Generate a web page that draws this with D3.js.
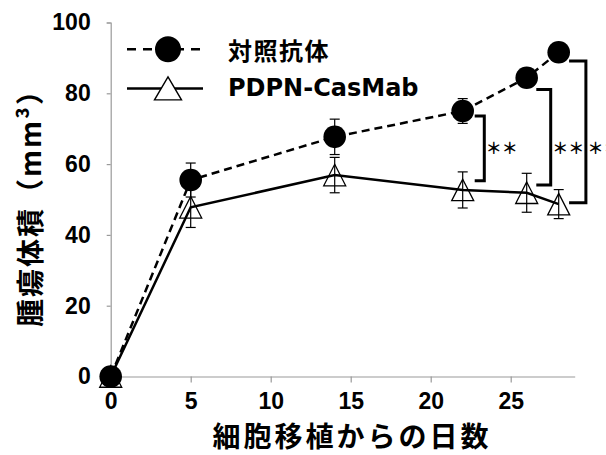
<!DOCTYPE html>
<html>
<head>
<meta charset="utf-8">
<script src="https://cdn.jsdelivr.net/npm/d3@7"></script>
<style>
	body { margin: 0; background: #fff; }
	svg { display: block; }
</style>
</head>
<body>
<svg id="chart" width="606" height="455"></svg>
<script>
// days after transplantation
const days = [0, 5, 14, 22, 26, 28];
const controlMean = [0, 55.5, 67.7, 75.0, 84.4, 91.6];
const controlErr = [0, 4.8, 5.0, 3.5, 2.5, 2.0];
const casmabMean = [0, 47.8, 56.9, 52.7, 51.9, 48.7];
const casmabErr = [0, 5.7, 5.0, 5.1, 5.5, 4.1];
const xTicks = [0, 5, 10, 15, 20, 25];
const yTicks = [0, 20, 40, 60, 80, 100];
const seriesNames = ["対照抗体", "PDPN-CasMab"];
// significance brackets (days / mm3)
const bracketDayIn = [22.75, 26.6, 28.65];
const bracketDayOut = [23.35, 27.5, 29.7];
const bracketTop = [73.6, 81.1, 89.1];
const bracketBottom = [55.3, 54.1, 49.1];
const bracketLabel = ["＊＊", "＊＊", "＊＊"];
const starValue = 64.7;

const jp = "'Noto Sans CJK JP', sans-serif";
const num = "'Liberation Sans', Arial, sans-serif";

let svg = d3.select("#chart");
let x = d3.scaleLinear().domain([0, 29]).range([110.7, 574.7]);
let y = d3.scaleLinear().domain([0, 100]).range([376.5, 22.5]);

let xAxis = svg.append("g")
	.attr("transform", `translate(0,${y(0)})`)
	.call(d3.axisBottom(x).tickValues(xTicks).tickSize(6).tickSizeOuter(0).tickPadding(10));
let yAxis = svg.append("g")
	.attr("transform", `translate(${x(0)},0)`)
	.call(d3.axisLeft(y).tickValues(yTicks).tickSize(4).tickSizeOuter(4).tickPadding(16));
[xAxis, yAxis].forEach(a => {
	a.selectAll("path, line").attr("stroke", "#9a9a9a").attr("stroke-width", 1.2);
	a.selectAll("text")
		.attr("fill", "#000")
		.attr("font-family", num)
		.attr("font-weight", "bold")
		.attr("font-size", 23);
});

// axis titles
svg.append("text")
	.attr("x", 352)
	.attr("y", 435)
	.attr("text-anchor", "middle")
	.attr("dominant-baseline", "central")
	.attr("font-family", jp)
	.attr("font-weight", "bold")
	.attr("font-size", 28)
	.attr("letter-spacing", 3)
	.text("細胞移植からの日数");
svg.append("text")
	.attr("transform", "translate(29,201) rotate(-90)")
	.attr("text-anchor", "middle")
	.attr("dominant-baseline", "central")
	.attr("font-family", jp)
	.attr("font-weight", "bold")
	.attr("font-size", 28)
	.attr("letter-spacing", 2)
	.text("腫瘍体積（mm³）");

let ctrl = days.map((d, i) => ({day: d, v: controlMean[i], e: controlErr[i]}));
let cas = days.map((d, i) => ({day: d, v: casmabMean[i], e: casmabErr[i]}));
let line = d3.line().x(d => x(d.day)).y(d => y(d.v));

function triangle(w, h) {
	return `M0,${-h / 2}L${w / 2},${h / 2}L${-w / 2},${h / 2}Z`;
}

svg.append("path")
	.datum(cas)
	.attr("d", line)
	.attr("fill", "none")
	.attr("stroke", "#000")
	.attr("stroke-width", 2.5);
svg.append("path")
	.datum(ctrl)
	.attr("d", line)
	.attr("fill", "none")
	.attr("stroke", "#000")
	.attr("stroke-width", 2.5)
	.attr("stroke-dasharray", "8,5");

// error bars
function errorBars(data) {
	let g = svg.append("g").attr("stroke", "#000").attr("stroke-width", 1.2);
	data.filter(d => d.e > 0).forEach(d => {
		let cx = x(d.day), t = y(d.v + d.e), b = y(d.v - d.e);
		g.append("line").attr("x1", cx).attr("x2", cx).attr("y1", t).attr("y2", b);
		g.append("line").attr("x1", cx - 5).attr("x2", cx + 5).attr("y1", t).attr("y2", t);
		g.append("line").attr("x1", cx - 5).attr("x2", cx + 5).attr("y1", b).attr("y2", b);
	});
}
errorBars(cas);
svg.append("g")
	.selectAll("path")
	.data(cas)
	.join("path")
	.attr("transform", d => `translate(${x(d.day)},${y(d.v)})`)
	.attr("d", triangle(22, 21.5))
	.attr("fill", "none")
	.attr("stroke", "#000")
	.attr("stroke-width", 1.3);
errorBars(ctrl);
svg.append("g")
	.selectAll("circle")
	.data(ctrl)
	.join("circle")
	.attr("cx", d => x(d.day))
	.attr("cy", d => y(d.v))
	.attr("r", 11.3)
	.attr("fill", "#000");

// brackets
bracketTop.forEach((t, i) => {
	let x0 = x(bracketDayIn[i]), x1 = x(bracketDayOut[i]);
	svg.append("path")
		.attr("d", `M${x0},${y(t)}H${x1}V${y(bracketBottom[i])}H${x0}`)
		.attr("fill", "none")
		.attr("stroke", "#000")
		.attr("stroke-width", 3);
	svg.append("text")
		.attr("x", x1 + 1.5)
		.attr("y", y(starValue))
		.attr("dominant-baseline", "central")
		.attr("font-family", jp)
		.attr("font-weight", "bold")
		.attr("font-size", 16)
		.attr("fill", "#000")
		.text(bracketLabel[i]);
});

// legend
let legend = svg.append("g");
let rows = [49.3, 88.4];
legend.append("line")
	.attr("x1", 127).attr("x2", 203).attr("y1", rows[0]).attr("y2", rows[0])
	.attr("stroke", "#000").attr("stroke-width", 2.5).attr("stroke-dasharray", "9,7");
legend.append("circle")
	.attr("cx", 168).attr("cy", rows[0]).attr("r", 13).attr("fill", "#000");
legend.append("line")
	.attr("x1", 127).attr("x2", 203).attr("y1", rows[1]).attr("y2", rows[1])
	.attr("stroke", "#000").attr("stroke-width", 2.5);
legend.append("path")
	.attr("transform", `translate(168,${rows[1]})`)
	.attr("d", triangle(27, 23))
	.attr("fill", "#fff")
	.attr("stroke", "#000")
	.attr("stroke-width", 1.4);
legend.selectAll("text")
	.data(seriesNames)
	.join("text")
	.attr("x", 228)
	.attr("y", (d, i) => rows[i])
	.attr("dominant-baseline", "central")
	.attr("font-family", (d, i) => i == 0 ? jp : "'DejaVu Sans', sans-serif")
	.attr("font-weight", "bold")
	.attr("font-size", 24)
	.attr("letter-spacing", (d, i) => i == 0 ? 1.5 : 0)
	.text(d => d);
</script>
</body>
</html>
